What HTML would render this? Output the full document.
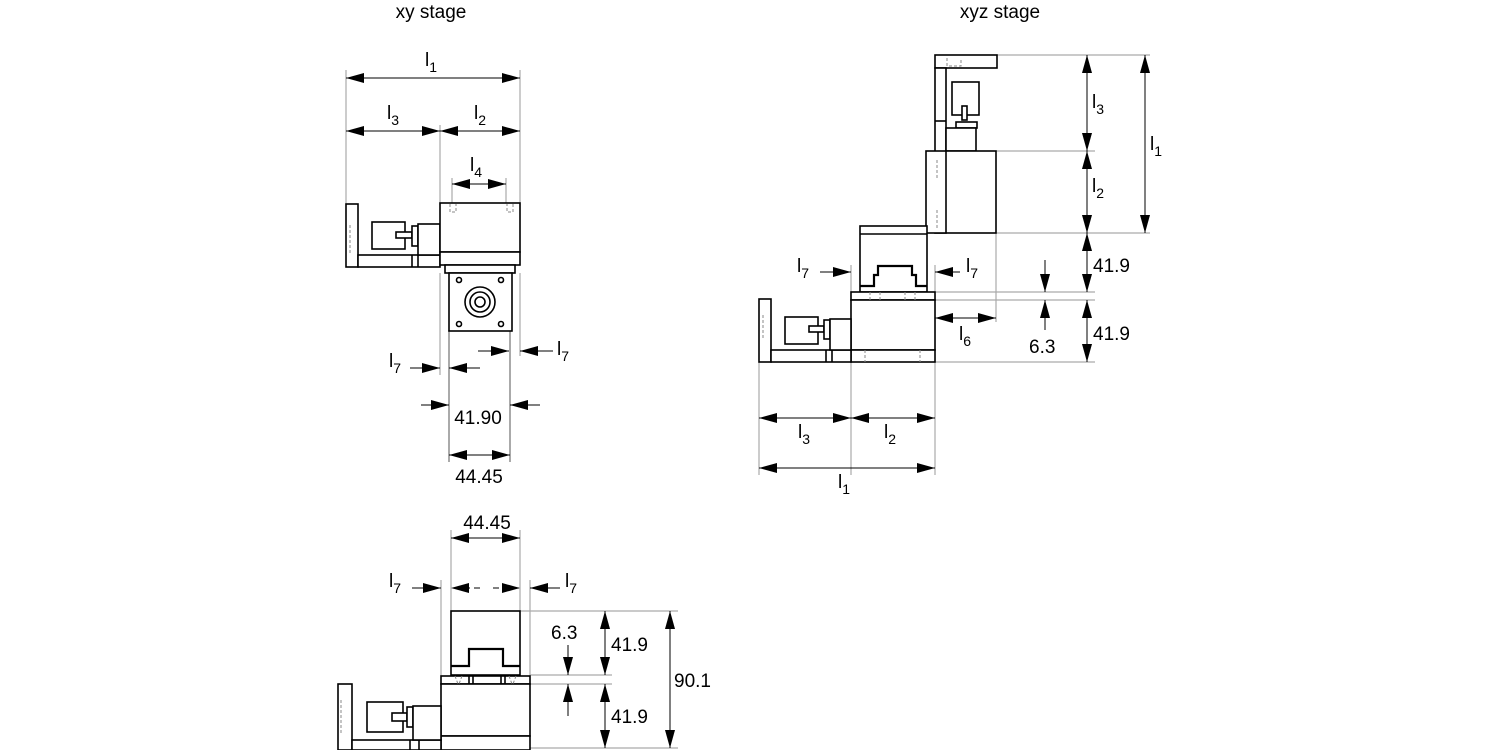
<!DOCTYPE html>
<html><head><meta charset="utf-8"><style>
html,body{margin:0;padding:0;background:#fff}
svg{display:block}
text{font-family:"Liberation Sans",Arial,sans-serif;font-size:19px;fill:#000}
.s{font-size:14px}
</style></head><body>
<svg width="1500" height="750" viewBox="0 0 1500 750" xmlns="http://www.w3.org/2000/svg">
<defs>
<marker id="a" markerWidth="18" markerHeight="10" refX="18" refY="5" orient="auto-start-reverse" markerUnits="userSpaceOnUse">
<path d="M0,0 L18,5 L0,10 Z" fill="#000"/></marker>
</defs>
<text x="431" y="18" text-anchor="middle">xy stage</text>
<text x="1000" y="18" text-anchor="middle">xyz stage</text>

<!-- ===== xy stage top view ===== -->
<g stroke="#aaa" stroke-width="1.2" fill="none">
<line x1="346" y1="70" x2="346" y2="205"/>
<line x1="520" y1="70" x2="520" y2="205"/>
<line x1="440" y1="125" x2="440" y2="205"/>
<line x1="452" y1="178" x2="452" y2="205"/>
<line x1="506" y1="178" x2="506" y2="205"/>
<line x1="440" y1="273" x2="440" y2="375"/>
<line x1="520" y1="273" x2="520" y2="356"/>
<line x1="449" y1="330" x2="449" y2="462" stroke-width="2"/>
<line x1="510" y1="330" x2="510" y2="462" stroke-width="2"/>
</g>
<g stroke="#000" stroke-width="1" fill="none">
<line x1="346" y1="78" x2="520" y2="78" marker-start="url(#a)" marker-end="url(#a)"/>
<line x1="346" y1="131" x2="440" y2="131" marker-start="url(#a)" marker-end="url(#a)"/>
<line x1="440" y1="131" x2="520" y2="131" marker-start="url(#a)" marker-end="url(#a)"/>
<line x1="452" y1="184" x2="506" y2="184" marker-start="url(#a)" marker-end="url(#a)"/>
<line x1="410" y1="368" x2="440" y2="368" marker-end="url(#a)"/>
<line x1="480" y1="368" x2="449" y2="368" marker-end="url(#a)"/>
<line x1="478" y1="351" x2="509" y2="351" marker-end="url(#a)"/>
<line x1="553" y1="351" x2="520" y2="351" marker-end="url(#a)"/>
<line x1="421" y1="405" x2="449" y2="405" marker-end="url(#a)"/>
<line x1="540" y1="405" x2="510" y2="405" marker-end="url(#a)"/>
<line x1="449" y1="455" x2="510" y2="455" marker-start="url(#a)" marker-end="url(#a)"/>
</g>
<text x="425" y="66">l<tspan class="s" dy="6">1</tspan></text>
<text x="387" y="119">l<tspan class="s" dy="6">3</tspan></text>
<text x="474" y="119">l<tspan class="s" dy="6">2</tspan></text>
<text x="470" y="171">l<tspan class="s" dy="6">4</tspan></text>
<text x="389" y="367">l<tspan class="s" dy="6">7</tspan></text>
<text x="557" y="355">l<tspan class="s" dy="6">7</tspan></text>
<text x="478" y="424" text-anchor="middle">41.90</text>
<text x="479" y="483" text-anchor="middle">44.45</text>
<g stroke="#000" stroke-width="1.6" fill="#fff">
<rect x="346" y="204" width="12" height="63"/>
<rect x="358" y="255" width="82" height="12"/>
<line x1="412" y1="255" x2="412" y2="267"/><line x1="418" y1="255" x2="418" y2="267"/>
<rect x="372" y="222" width="33" height="27"/>
<rect x="396" y="232" width="16" height="6"/>
<rect x="412" y="226" width="6" height="20"/>
<rect x="418" y="224" width="22" height="31"/>
<rect x="440" y="203" width="80" height="49"/>
<rect x="440" y="252" width="80" height="13"/>
<rect x="445" y="265" width="70" height="8"/>
<rect x="449" y="273" width="63" height="58"/>
<circle cx="480" cy="302" r="15"/><circle cx="480" cy="302" r="10"/><circle cx="480" cy="302" r="5"/>
<circle cx="459" cy="280" r="2.5"/><circle cx="501" cy="280" r="2.5"/>
<circle cx="459" cy="324" r="2.5"/><circle cx="501" cy="324" r="2.5"/>
</g>
<g stroke="#888" stroke-width="1" stroke-dasharray="3,2" fill="none">
<path d="M450 204v8h6v-8M513 204v8h-6v-8M350 225v30"/>
</g>

<!-- ===== xyz stage ===== -->
<g stroke="#aaa" stroke-width="1.2" fill="none">
<line x1="996" y1="55" x2="1150" y2="55"/>
<line x1="996" y1="151" x2="1095" y2="151"/>
<line x1="996" y1="233" x2="1150" y2="233"/>
<line x1="935" y1="292" x2="1095" y2="292"/>
<line x1="935" y1="300" x2="1095" y2="300"/>
<line x1="935" y1="362" x2="1095" y2="362"/>
<line x1="996" y1="233" x2="996" y2="322"/>
<line x1="851" y1="265" x2="851" y2="475"/>
<line x1="860" y1="265" x2="860" y2="280"/>
<line x1="927" y1="265" x2="927" y2="280"/>
<line x1="935" y1="265" x2="935" y2="475"/>
<line x1="759" y1="362" x2="759" y2="475"/>
</g>
<g stroke="#000" stroke-width="1" fill="none">
<line x1="1087" y1="55" x2="1087" y2="151" marker-start="url(#a)" marker-end="url(#a)"/>
<line x1="1087" y1="151" x2="1087" y2="233" marker-start="url(#a)" marker-end="url(#a)"/>
<line x1="1087" y1="233" x2="1087" y2="292" marker-start="url(#a)" marker-end="url(#a)"/>
<line x1="1087" y1="300" x2="1087" y2="362" marker-start="url(#a)" marker-end="url(#a)"/>
<line x1="1145" y1="55" x2="1145" y2="233" marker-start="url(#a)" marker-end="url(#a)"/>
<line x1="1045" y1="260" x2="1045" y2="292" marker-end="url(#a)"/>
<line x1="1045" y1="330" x2="1045" y2="300" marker-end="url(#a)"/>
<line x1="935" y1="318" x2="996" y2="318" marker-start="url(#a)" marker-end="url(#a)"/>
<line x1="820" y1="272" x2="851" y2="272" marker-end="url(#a)"/>
<line x1="885" y1="272" x2="860" y2="272" marker-end="url(#a)"/>
<line x1="902" y1="272" x2="927" y2="272" marker-end="url(#a)"/>
<line x1="960" y1="272" x2="935" y2="272" marker-end="url(#a)"/>
<line x1="759" y1="418" x2="851" y2="418" marker-start="url(#a)" marker-end="url(#a)"/>
<line x1="851" y1="418" x2="935" y2="418" marker-start="url(#a)" marker-end="url(#a)"/>
<line x1="759" y1="468" x2="935" y2="468" marker-start="url(#a)" marker-end="url(#a)"/>
</g>
<text x="1092" y="108">l<tspan class="s" dy="6">3</tspan></text>
<text x="1092" y="192">l<tspan class="s" dy="6">2</tspan></text>
<text x="1150" y="150">l<tspan class="s" dy="6">1</tspan></text>
<text x="1093" y="272">41.9</text>
<text x="1093" y="340">41.9</text>
<text x="1029" y="353">6.3</text>
<text x="959" y="340">l<tspan class="s" dy="6">6</tspan></text>
<text x="797" y="272">l<tspan class="s" dy="6">7</tspan></text>
<text x="966" y="272">l<tspan class="s" dy="6">7</tspan></text>
<text x="798" y="438">l<tspan class="s" dy="6">3</tspan></text>
<text x="884" y="438">l<tspan class="s" dy="6">2</tspan></text>
<text x="838" y="488">l<tspan class="s" dy="6">1</tspan></text>
<g stroke="#000" stroke-width="1.6" fill="#fff">
<rect x="935" y="55" width="62" height="13"/>
<rect x="935" y="68" width="11" height="165"/>
<line x1="935" y1="121" x2="946" y2="121"/>
<rect x="952" y="82" width="27" height="33"/>
<rect x="962" y="106" width="5" height="14"/>
<rect x="956" y="122" width="21" height="6"/>
<rect x="946" y="128" width="30" height="23"/>
<rect x="926" y="151" width="70" height="82"/>
<line x1="946" y1="151" x2="946" y2="233"/>
<rect x="860" y="226" width="67" height="66"/>
<line x1="860" y1="234" x2="927" y2="234"/>
<path d="M860 286h14v-11h4v-9h34v9h4v11h11" fill="none" stroke-width="2.2"/>
<rect x="851" y="292" width="84" height="8"/>
<rect x="851" y="300" width="84" height="50"/>
<rect x="851" y="350" width="84" height="12"/>
<rect x="759" y="299" width="12" height="63"/>
<rect x="771" y="350" width="80" height="12"/>
<line x1="826" y1="350" x2="826" y2="362"/><line x1="832" y1="350" x2="832" y2="362"/>
<rect x="785" y="317" width="33" height="27"/>
<rect x="809" y="326" width="15" height="6"/>
<rect x="824" y="320" width="6" height="19"/>
<rect x="830" y="319" width="21" height="31"/>
</g>
<g stroke="#888" stroke-width="1" stroke-dasharray="3,2" fill="none">
<path d="M763 315v25M947 58v8h14v-8M937 160v20M937 210v20M870 292v8M880 292v8M905 292v8M915 292v8M865 350v12M920 350v12"/>
</g>

<!-- ===== xy stage front view ===== -->
<g stroke="#aaa" stroke-width="1.2" fill="none">
<line x1="441" y1="580" x2="441" y2="676"/>
<line x1="451" y1="530" x2="451" y2="611"/>
<line x1="520" y1="530" x2="520" y2="611"/>
<line x1="530" y1="580" x2="530" y2="676"/>
<line x1="520" y1="611" x2="678" y2="611"/>
<line x1="530" y1="675" x2="612" y2="675"/>
<line x1="530" y1="684" x2="612" y2="684"/>
<line x1="530" y1="748" x2="678" y2="748"/>
</g>
<g stroke="#000" stroke-width="1" fill="none">
<line x1="451" y1="538" x2="520" y2="538" marker-start="url(#a)" marker-end="url(#a)"/>
<line x1="412" y1="588" x2="441" y2="588" marker-end="url(#a)"/>
<line x1="480" y1="588" x2="451" y2="588" marker-end="url(#a)" stroke-dasharray="6,4"/>
<line x1="493" y1="588" x2="520" y2="588" marker-end="url(#a)" stroke-dasharray="6,4"/>
<line x1="560" y1="588" x2="530" y2="588" marker-end="url(#a)"/>
<line x1="605" y1="611" x2="605" y2="675" marker-start="url(#a)" marker-end="url(#a)"/>
<line x1="605" y1="684" x2="605" y2="748" marker-start="url(#a)" marker-end="url(#a)"/>
<line x1="670" y1="611" x2="670" y2="748" marker-start="url(#a)" marker-end="url(#a)"/>
<line x1="568" y1="645" x2="568" y2="675" marker-end="url(#a)"/>
<line x1="568" y1="716" x2="568" y2="684" marker-end="url(#a)"/>
</g>
<text x="487" y="529" text-anchor="middle">44.45</text>
<text x="389" y="587">l<tspan class="s" dy="6">7</tspan></text>
<text x="565" y="587">l<tspan class="s" dy="6">7</tspan></text>
<text x="551" y="639">6.3</text>
<text x="611" y="651">41.9</text>
<text x="611" y="723">41.9</text>
<text x="674" y="687">90.1</text>
<g stroke="#000" stroke-width="1.6" fill="#fff">
<rect x="451" y="611" width="69" height="64"/>
<path d="M451 666h18v-17h34v17h17" fill="none" stroke-width="2.2"/>
<rect x="441" y="676" width="89" height="8"/>
<line x1="469" y1="676" x2="469" y2="684"/><line x1="473" y1="676" x2="473" y2="684"/>
<line x1="501" y1="676" x2="501" y2="684"/><line x1="505" y1="676" x2="505" y2="684"/>
<rect x="441" y="684" width="89" height="52"/>
<rect x="441" y="736" width="89" height="14"/>
<rect x="338" y="684" width="14" height="66"/>
<rect x="352" y="740" width="89" height="10"/>
<line x1="410" y1="740" x2="410" y2="750"/><line x1="419" y1="740" x2="419" y2="750"/>
<rect x="367" y="702" width="36" height="30"/>
<rect x="392" y="713" width="15" height="8"/>
<rect x="407" y="707" width="6" height="20"/>
<rect x="413" y="706" width="28" height="34"/>
</g>
<g stroke="#888" stroke-width="1" stroke-dasharray="3,2" fill="none">
<path d="M341 700v35M455 676l3 8M462 676l-3 8M509 676l3 8M516 676l-3 8"/>
</g>
</svg>
</body></html>
